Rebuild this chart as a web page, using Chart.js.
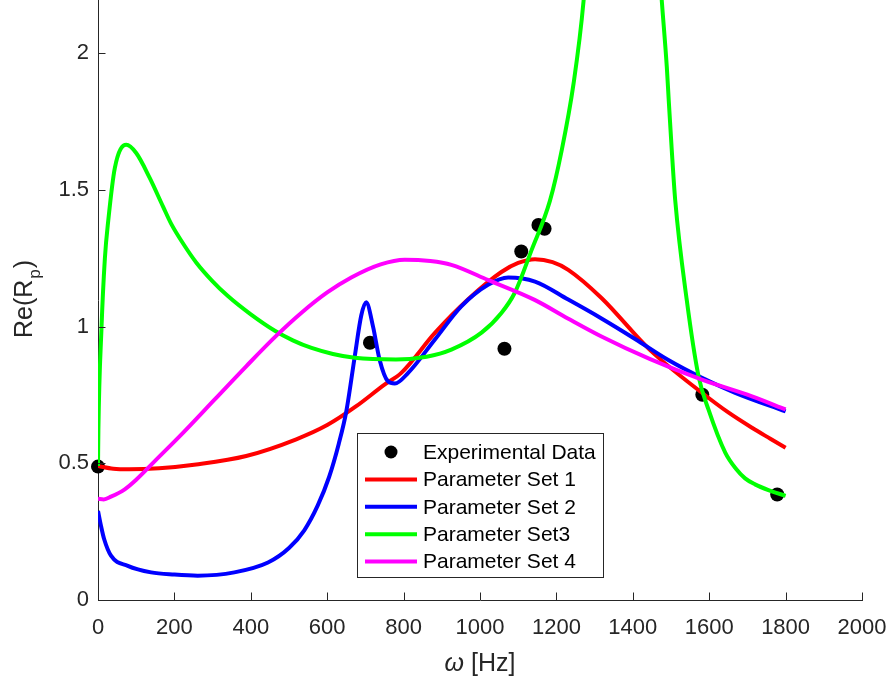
<!DOCTYPE html>
<html>
<head>
<meta charset="utf-8">
<script src="https://cdn.jsdelivr.net/npm/chart.js@4.4.1/dist/chart.umd.min.js"></script>
<style>
  html, body { margin: 0; padding: 0; background: #ffffff; }
  canvas { display: block; }
</style>
</head>
<body>
<canvas id="c" width="891" height="680"></canvas>
<script>
// Measured points
const expX = [0, 712, 1064, 1108, 1153, 1169, 1582, 1778];
const expY = [0.488, 0.941, 0.919, 1.275, 1.372, 1.358, 0.751, 0.386];

// Model curves, omega [Hz] and Re(Rp)
const set1X = [0, 40, 82, 160, 257, 388, 519, 600, 676, 750, 794, 882, 969, 1056, 1100, 1144, 1190, 1231, 1318, 1444, 1581, 1650, 1712, 1760, 1800];
const set1Y = [0.49, 0.48, 0.478, 0.482, 0.496, 0.527, 0.588, 0.64, 0.709, 0.788, 0.831, 0.977, 1.10, 1.20, 1.233, 1.247, 1.236, 1.208, 1.105, 0.916, 0.758, 0.686, 0.63, 0.59, 0.557];

const set2X = [0, 8, 16, 34, 78, 139, 200, 261, 357, 445, 500, 540, 575, 605, 630, 650, 672, 689, 702, 720, 737, 759, 777, 812, 882, 951, 1021, 1074, 1144, 1231, 1318, 1406, 1493, 1581, 1668, 1800];
const set2Y = [0.326, 0.27, 0.223, 0.162, 0.125, 0.101, 0.093, 0.089, 0.101, 0.137, 0.19, 0.255, 0.345, 0.45, 0.57, 0.69, 0.89, 1.04, 1.089, 1.0, 0.88, 0.80, 0.792, 0.831, 0.953, 1.074, 1.153, 1.18, 1.165, 1.099, 1.03, 0.955, 0.878, 0.813, 0.758, 0.69];

const set3X = [0, 1, 9, 18, 27, 44, 74, 100, 135, 170, 192, 227, 257, 300, 340, 400, 463, 510, 559, 615, 672, 780, 860, 925, 1004, 1056, 1091, 1135, 1183, 1214, 1245, 1271, 1300, 1340, 1380, 1420, 1455, 1476, 1489, 1494, 1502, 1511, 1541, 1572, 1598, 1642, 1670, 1694, 1720, 1755, 1800];
const set3Y = [0.49, 0.62, 0.99, 1.25, 1.39, 1.58, 1.665, 1.635, 1.545, 1.44, 1.375, 1.295, 1.235, 1.166, 1.112, 1.045, 0.985, 0.95, 0.922, 0.90, 0.886, 0.88, 0.89, 0.916, 0.978, 1.05, 1.124, 1.28, 1.46, 1.646, 1.89, 2.19, 2.75, 3.4, 3.6, 3.3, 2.6, 2.19, 1.95, 1.83, 1.646, 1.463, 1.1, 0.819, 0.697, 0.539, 0.48, 0.445, 0.423, 0.402, 0.381];

const set4X = [0, 15, 34, 70, 100, 150, 218, 305, 388, 467, 532, 600, 663, 740, 803, 870, 925, 1022, 1143, 1230, 1318, 1444, 1581, 1712, 1800];
const set4Y = [0.37, 0.368, 0.378, 0.405, 0.44, 0.51, 0.605, 0.733, 0.855, 0.967, 1.05, 1.125, 1.18, 1.228, 1.245, 1.24, 1.226, 1.17, 1.098, 1.03, 0.964, 0.882, 0.806, 0.745, 0.697];

const xTicks = [0, 200, 400, 600, 800, 1000, 1200, 1400, 1600, 1800, 2000];
const yTicks = [0, 0.5, 1, 1.5, 2];

const seriesLabels = ['Experimental Data', 'Parameter Set 1', 'Parameter Set 2', 'Parameter Set3', 'Parameter Set 4'];

const FONT = "'Liberation Sans', Arial, Helvetica, sans-serif";
const AXIS_COLOR = '#262626';

const pts = (xs, ys) => xs.map((x, i) => ({ x: x, y: ys[i] }));

function lineSet(label, xs, ys, color, order) {
  return {
    label: label,
    data: pts(xs, ys),
    showLine: true,
    borderColor: color,
    backgroundColor: color,
    borderWidth: 4,
    pointRadius: 0,
    cubicInterpolationMode: 'monotone',
    order: order
  };
}

// Inward tick marks on both axes
const innerTicks = {
  id: 'innerTicks',
  afterDraw(chart) {
    const ctx = chart.ctx;
    const a = chart.chartArea;
    const xs = chart.scales.x, ys = chart.scales.y;
    ctx.save();
    ctx.strokeStyle = AXIS_COLOR;
    ctx.lineWidth = 1;
    ctx.beginPath();
    xTicks.forEach(v => {
      const px = Math.round(xs.getPixelForValue(v)) + 0.5;
      ctx.moveTo(px, a.bottom);
      ctx.lineTo(px, a.bottom - 7.5);
    });
    yTicks.forEach(v => {
      const py = Math.round(ys.getPixelForValue(v)) + 0.5;
      ctx.moveTo(a.left, py);
      ctx.lineTo(a.left + 7.5, py);
    });
    ctx.stroke();
    ctx.restore();
  }
};

// Axis titles: italic omega, subscript p
const axisTitles = {
  id: 'axisTitles',
  afterDraw(chart) {
    const ctx = chart.ctx;
    ctx.save();
    ctx.fillStyle = AXIS_COLOR;
    ctx.textBaseline = 'alphabetic';
    ctx.textAlign = 'left';
    // x title
    const italic = 'italic 25px ' + FONT;
    const normal = '25px ' + FONT;
    ctx.font = italic;
    const wOmega = ctx.measureText('ω').width;
    ctx.font = normal;
    const wRest = ctx.measureText(' [Hz]').width;
    const cx = (chart.chartArea.left + chart.chartArea.right) / 2;
    const x0 = cx - (wOmega + wRest) / 2;
    const yBase = 671;
    ctx.font = italic;
    ctx.fillText('ω', x0, yBase);
    ctx.font = normal;
    ctx.fillText(' [Hz]', x0 + wOmega, yBase);

    // y title, rotated
    ctx.translate(32, 338);
    ctx.rotate(-Math.PI / 2);
    ctx.font = normal;
    ctx.fillText('Re(R', 0, 0);
    let w = ctx.measureText('Re(R').width;
    ctx.font = '17px ' + FONT;
    ctx.fillText('p', w + 1, 8);
    w += ctx.measureText('p').width + 2;
    ctx.font = normal;
    ctx.fillText(')', w, 0);
    ctx.restore();
  }
};

// Boxed legend inside the axes
const boxLegend = {
  id: 'boxLegend',
  afterDraw(chart) {
    const ctx = chart.ctx;
    const box = { l: 357.5, t: 433.5, r: 603.5, b: 577.5 };
    ctx.save();
    ctx.fillStyle = '#ffffff';
    ctx.fillRect(box.l, box.t, box.r - box.l, box.b - box.t);
    ctx.strokeStyle = AXIS_COLOR;
    ctx.lineWidth = 1;
    ctx.strokeRect(box.l, box.t, box.r - box.l, box.b - box.t);
    const rowY0 = 452, rowStep = 27.4;
    ctx.font = '21px ' + FONT;
    ctx.textBaseline = 'middle';
    ctx.textAlign = 'left';
    const order = [4, 0, 1, 2, 3];
    seriesLabels.forEach((label, i) => {
      const ds = chart.data.datasets[order[i]];
      const y = rowY0 + i * rowStep;
      if (i === 0) {
        ctx.beginPath();
        ctx.fillStyle = '#000000';
        ctx.arc(391, y, 6.5, 0, Math.PI * 2);
        ctx.fill();
      } else {
        ctx.beginPath();
        ctx.strokeStyle = ds.borderColor;
        ctx.lineWidth = 4;
        ctx.moveTo(365, y);
        ctx.lineTo(417, y);
        ctx.stroke();
      }
      ctx.fillStyle = '#000000';
      ctx.fillText(label, 423, y + 1);
    });
    ctx.restore();
  }
};

new Chart(document.getElementById('c'), {
  type: 'scatter',
  data: {
    datasets: [
      lineSet(seriesLabels[1], set1X, set1Y, '#ff0000', 4),
      lineSet(seriesLabels[2], set2X, set2Y, '#0000ff', 3),
      lineSet(seriesLabels[3], set3X, set3Y, '#00ff00', 2),
      lineSet(seriesLabels[4], set4X, set4Y, '#ff00ff', 1),
      {
        label: seriesLabels[0],
        data: pts(expX, expY),
        showLine: false,
        pointRadius: 7,
        pointBackgroundColor: '#000000',
        pointBorderColor: '#000000',
        pointBorderWidth: 0,
        clip: false,
        order: 5
      }
    ]
  },
  options: {
    responsive: false,
    animation: false,
    devicePixelRatio: 1,
    layout: { autoPadding: false, padding: { top: 0, right: 29, bottom: 0, left: 0 } },
    plugins: { legend: { display: false }, tooltip: { enabled: false }, title: { display: false } },
    scales: {
      x: {
        type: 'linear',
        min: 0,
        max: 2000,
        afterBuildTicks: s => { s.ticks = xTicks.map(v => ({ value: v })); },
        afterFit: s => { s.height = 80; s.paddingLeft = 0; s.paddingRight = 0; },
        grid: { display: true, drawOnChartArea: false, drawTicks: false },
        border: { display: true, color: AXIS_COLOR, width: 1 },
        ticks: {
          color: AXIS_COLOR,
          font: { family: FONT, size: 22 },
          padding: 15,
          maxRotation: 0,
          autoSkip: false,
          callback: v => String(v)
        }
      },
      y: {
        type: 'linear',
        min: 0,
        max: 2.195,
        afterBuildTicks: s => { s.ticks = yTicks.map(v => ({ value: v })); },
        afterFit: s => { s.width = 98; s.paddingTop = 0; s.paddingBottom = 0; },
        grid: { display: true, drawOnChartArea: false, drawTicks: false },
        border: { display: true, color: AXIS_COLOR, width: 1 },
        ticks: {
          color: AXIS_COLOR,
          font: { family: FONT, size: 22 },
          padding: 9,
          autoSkip: false,
          callback: v => String(v)
        }
      }
    }
  },
  plugins: [innerTicks, axisTitles, boxLegend]
});
</script>
</body>
</html>
